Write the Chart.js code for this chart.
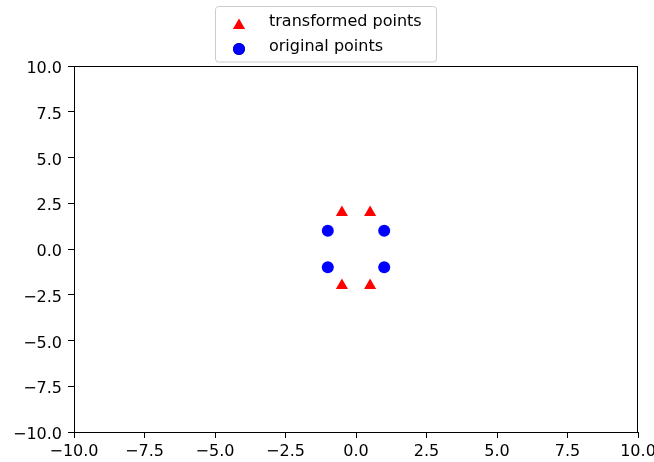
<!DOCTYPE html>
<html>
<head>
<meta charset="utf-8">
<script src="https://cdn.jsdelivr.net/npm/chart.js@4"></script>
<style>
html,body{margin:0;padding:0;background:#fff;}
#wrap{position:relative;width:654px;height:462px;}
</style>
</head>
<body>
<div id="wrap"><canvas id="c" width="654" height="462"></canvas></div>
<script>
// Data
const origX = [1, -1, -1, 1];
const origY = [1, 1, -1, -1];
const transX = [0.5, -0.5, -0.5, 0.5];
const transY = [2, 2, -2, -2];
const seriesLabels = ['transformed points', 'original points'];
const axisMin = -10, axisMax = 10, axisStep = 2.5;

const FONT = 'DejaVu Sans';
const FS = 16;

function fmt(v){ return v.toFixed(1).replace('-', '\u2212'); }

const framePlugin = {
  id: 'frame',
  afterDraw(chart) {
    const {ctx, chartArea: a} = chart;
    ctx.save();
    ctx.strokeStyle = '#000';
    ctx.lineWidth = 1;
    ctx.strokeRect(Math.round(a.left) + 0.5, Math.round(a.top) + 0.5,
                   Math.round(a.right - a.left) - 1, Math.round(a.bottom - a.top));
    ctx.restore();
    // Legend
    const lx = 215.5, ly = 6.5, lw = 221, lh = 55.5, r = 3;
    ctx.save();
    ctx.beginPath();
    ctx.moveTo(lx + r, ly);
    ctx.lineTo(lx + lw - r, ly);
    ctx.arcTo(lx + lw, ly, lx + lw, ly + r, r);
    ctx.lineTo(lx + lw, ly + lh - r);
    ctx.arcTo(lx + lw, ly + lh, lx + lw - r, ly + lh, r);
    ctx.lineTo(lx + r, ly + lh);
    ctx.arcTo(lx, ly + lh, lx, ly + lh - r, r);
    ctx.lineTo(lx, ly + r);
    ctx.arcTo(lx, ly, lx + r, ly, r);
    ctx.closePath();
    ctx.fillStyle = 'rgba(255,255,255,0.8)';
    ctx.fill();
    ctx.strokeStyle = '#cccccc';
    ctx.lineWidth = 1;
    ctx.stroke();
    const rows = [24, 49];
    chart.data.datasets.forEach((ds, i) => {
      const y = rows[i];
      Chart.helpers.drawPoint(ctx, {pointStyle: ds.pointStyle, radius: ds.pointRadius, borderWidth: 0}, 239, y + (ds.pointStyle === 'triangle' ? 1.5 : 0));
      ctx.fillStyle = ds.backgroundColor;
      ctx.fill();
      ctx.fillStyle = '#000';
      ctx.font = FS + 'px "' + FONT + '"';
      ctx.textBaseline = 'middle';
      ctx.textAlign = 'left';
      ctx.fillText(ds.label, 269, y - 2);
    });
    ctx.restore();
  }
};

const chart = new Chart(document.getElementById('c'), {
  type: 'scatter',
  data: {
    datasets: [
      {
        label: seriesLabels[0],
        data: transX.map((x, i) => ({x: x, y: transY[i]})),
        pointStyle: 'triangle',
        pointRadius: 7,
        pointHoverRadius: 7,
        backgroundColor: '#ff0000',
        borderWidth: 0
      },
      {
        label: seriesLabels[1],
        data: origX.map((x, i) => ({x: x, y: origY[i]})),
        pointStyle: 'circle',
        pointRadius: 6,
        pointHoverRadius: 6,
        backgroundColor: '#0000ff',
        borderWidth: 0
      }
    ]
  },
  options: {
    responsive: false,
    animation: false,
    events: [],
    layout: {padding: {top: 66, right: 16, bottom: 0, left: 0}},
    plugins: {legend: {display: false}, tooltip: {enabled: false}},
    scales: {
      x: {
        type: 'linear', min: axisMin, max: axisMax,
        border: {display: true, color: '#000', width: 1},
        grid: {display: true, drawOnChartArea: false, drawTicks: true, tickLength: 6, color: '#000', tickWidth: 1},
        ticks: {stepSize: axisStep, color: '#000', font: {family: FONT, size: FS}, padding: 4, maxRotation: 0, autoSkip: false, callback: v => fmt(v)},
        afterFit(s) { s.height = 30; s.paddingLeft = 0; s.paddingRight = 0; }
      },
      y: {
        type: 'linear', min: axisMin, max: axisMax,
        border: {display: true, color: '#000', width: 1},
        grid: {display: true, drawOnChartArea: false, drawTicks: true, tickLength: 6, color: '#000', tickWidth: 1},
        ticks: {stepSize: axisStep, color: '#000', font: {family: FONT, size: FS}, padding: 6, labelOffset: 3, autoSkip: false, callback: v => fmt(v)},
        afterFit(s) { s.width = 74; }
      }
    }
  },
  plugins: [framePlugin]
});
</script>
</body>
</html>
